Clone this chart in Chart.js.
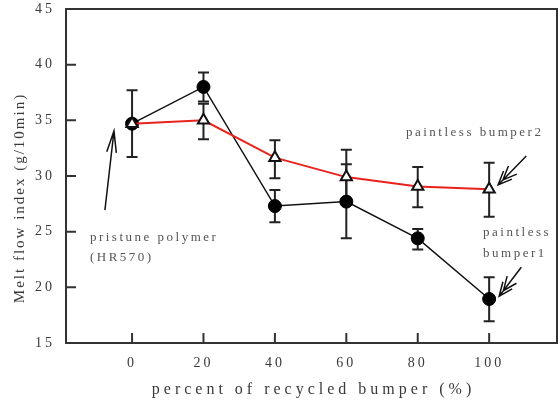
<!DOCTYPE html>
<html>
<head>
<meta charset="utf-8">
<script src="https://cdn.jsdelivr.net/npm/chart.js@4"></script>
<style>
html, body { margin: 0; padding: 0; background: #fff; }
#wrap { width: 560px; height: 409px; }
</style>
</head>
<body>
<div id="wrap"><canvas id="mfiChart"></canvas></div>
<script>
// recycled bumper content (%)
let percents = [0, 20, 40, 60, 80, 100];

// paintless bumper1 (filled circles)
let bumper1 = [34.7, 38.0, 27.3, 27.7, 24.4, 18.95];
let bumper1Low = [31.7, 36.7, 25.85, 24.4, 23.4, 16.95];
let bumper1High = [37.7, 39.3, 28.75, 31.05, 25.25, 20.9];

// paintless bumper2 (open triangles)
let bumper2 = [34.7, 35.0, 31.65, 29.9, 29.05, 28.8];
let bumper2Low = [34.7, 33.3, 29.8, 27.45, 27.2, 26.35];
let bumper2High = [34.7, 36.5, 33.2, 32.35, 30.8, 31.2];

let xTicks = [0, 20, 40, 60, 80, 100];
let yTicks = [15, 20, 25, 30, 35, 40, 45];

let serif = "'Liberation Serif', 'Times New Roman', serif";
let textColor = '#3a3a3a';

let toPoints = function (ys) {
    return percents.map((p, i) => ({x: p, y: ys[i]}));
};

let drawArrow = function (ctx, x1, y1, x2, y2, len, ang, double) {
    let a = Math.atan2(y2 - y1, x2 - x1);
    ctx.beginPath();
    ctx.moveTo(x1, y1);
    ctx.lineTo(x2, y2);
    let heads = double ? [0, 7] : [0];
    heads.forEach(off => {
        let hx = x2 - off * Math.cos(a);
        let hy = y2 - off * Math.sin(a);
        ctx.moveTo(hx - len * Math.cos(a - ang), hy - len * Math.sin(a - ang));
        ctx.lineTo(hx, hy);
        ctx.lineTo(hx - len * Math.cos(a + ang), hy - len * Math.sin(a + ang));
    });
    ctx.stroke();
};

let paperPlugin = {
    id: 'paper',
    beforeDraw: function (chart) {
        chart.ctx.letterSpacing = '3px';
    },
    beforeDatasetsDraw: function (chart) {
        let ctx = chart.ctx;
        let xs = chart.scales.x, ys = chart.scales.y;
        ctx.save();
        ctx.strokeStyle = '#222';
        ctx.lineWidth = 2;
        [[bumper1Low, bumper1High], [bumper2Low, bumper2High]].forEach(pair => {
            percents.forEach((p, i) => {
                if (pair[0][i] === pair[1][i]) return;
                let px = xs.getPixelForValue(p);
                let lo = ys.getPixelForValue(pair[0][i]);
                let hi = ys.getPixelForValue(pair[1][i]);
                ctx.beginPath();
                ctx.moveTo(px, lo); ctx.lineTo(px, hi);
                ctx.moveTo(px - 5.5, lo); ctx.lineTo(px + 5.5, lo);
                ctx.moveTo(px - 5.5, hi); ctx.lineTo(px + 5.5, hi);
                ctx.stroke();
            });
        });
        ctx.restore();
    },
    afterDraw: function (chart) {
        let ctx = chart.ctx;
        let area = chart.chartArea;
        let xs = chart.scales.x, ys = chart.scales.y;
        ctx.save();
        // frame and inward ticks
        ctx.strokeStyle = '#333';
        ctx.lineWidth = 2;
        ctx.strokeRect(area.left, area.top, area.right - area.left, area.bottom - area.top);
        ctx.beginPath();
        xTicks.forEach(v => {
            let px = xs.getPixelForValue(v);
            ctx.moveTo(px, area.bottom); ctx.lineTo(px, area.bottom - 10);
        });
        yTicks.forEach(v => {
            let py = ys.getPixelForValue(v);
            ctx.moveTo(area.left, py); ctx.lineTo(area.left + 10, py);
        });
        ctx.stroke();

        // axis titles
        ctx.fillStyle = textColor;
        ctx.textAlign = 'center';
        ctx.textBaseline = 'middle';
        ctx.font = '16px ' + serif;
        ctx.letterSpacing = '4px';
        ctx.fillText('percent of recycled bumper (%)', (area.left + area.right) / 2 + 2, 390);
        ctx.save();
        ctx.translate(20, 198);
        ctx.rotate(-Math.PI / 2);
        ctx.font = '15px ' + serif;
        ctx.letterSpacing = '2px';
        ctx.fillText('Melt flow index (g/10min)', 0, 0);
        ctx.restore();

        // annotations
        ctx.font = '13px ' + serif;
        ctx.letterSpacing = '2.5px';
        ctx.fillStyle = '#555';
        ctx.textAlign = 'left';
        let label = function (t, x, y) {
            ctx.fillText(t, xs.getPixelForValue(x), ys.getPixelForValue(y));
        };
        label('pristune polymer', -11.8, 24.43);
        label('(HR570)', -11.8, 22.7);
        label('paintless bumper2', 76.7, 33.86);
        label('paintless', 98.3, 24.9);
        label('bumper1', 98.3, 23.0);

        ctx.strokeStyle = '#111';
        ctx.lineWidth = 1.5;
        let arrow = function (x1, y1, x2, y2, len, ang, dbl) {
            drawArrow(ctx, xs.getPixelForValue(x1), ys.getPixelForValue(y1),
                xs.getPixelForValue(x2), ys.getPixelForValue(y2), len, ang, dbl);
        };
        arrow(-7.6, 26.94, -5.06, 34.04, 22, 0.22, false);
        arrow(110.4, 31.8, 102.5, 29.2, 15, 0.4, true);
        arrow(109, 21.8, 102.8, 19.2, 15, 0.4, true);
        ctx.restore();
    }
};

let tickFont = {family: serif, size: 14};

new Chart(document.getElementById('mfiChart').getContext('2d'), {
    type: 'line',
    data: {
        datasets: [{
            label: 'paintless bumper2',
            data: toPoints(bumper2),
            borderColor: '#e8231e',
            borderWidth: 2,
            pointStyle: 'triangle',
            pointRadius: 6.5,
            pointBackgroundColor: '#fff',
            pointBorderColor: '#111',
            pointBorderWidth: 2,
            tension: 0
        }, {
            label: 'paintless bumper1',
            data: toPoints(bumper1),
            borderColor: '#111',
            borderWidth: 1.5,
            pointStyle: 'circle',
            pointRadius: 6.5,
            pointBackgroundColor: '#000',
            pointBorderColor: '#000',
            pointBorderWidth: 1,
            tension: 0
        }]
    },
    options: {
        responsive: true,
        maintainAspectRatio: false,
        animation: false,
        layout: {autoPadding: false, padding: {top: 9, right: 3, left: 0, bottom: 0}},
        plugins: {legend: {display: false}, tooltip: {enabled: false}},
        scales: {
            x: {
                type: 'linear',
                min: -18.5,
                max: 119,
                afterBuildTicks: s => { s.ticks = xTicks.map(v => ({value: v})); },
                afterFit: s => {
                    s.height = 66;
                    s.paddingLeft = 0; s.paddingRight = 0;
                },
                grid: {display: false},
                border: {display: false},
                ticks: {padding: 4, font: tickFont, color: textColor, maxRotation: 0}
            },
            y: {
                type: 'linear',
                min: 15,
                max: 45,
                afterBuildTicks: s => { s.ticks = yTicks.map(v => ({value: v})); },
                afterFit: s => {
                    s.width = 66;
                    s.paddingTop = 0; s.paddingBottom = 0;
                },
                grid: {display: false},
                border: {display: false},
                ticks: {padding: 3, font: tickFont, color: textColor}
            }
        }
    },
    plugins: [paperPlugin]
});
</script>
</body>
</html>
